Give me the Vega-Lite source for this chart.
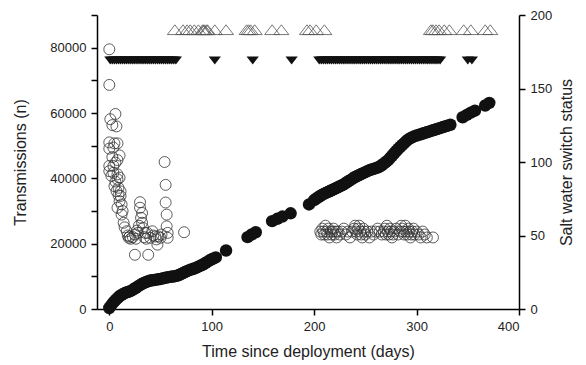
{
  "$schema": "https://vega.github.io/schema/vega-lite/v6.json",
  "width": 422,
  "height": 294,
  "autosize": {"type": "none"},
  "padding": {"left": 97, "top": 15, "right": 67, "bottom": 56},
  "background": "white",
  "config": {
    "view": {"stroke": null},
    "axis": {
      "domainColor": "#000", "tickColor": "#000", "labelColor": "#222", "titleColor": "#222",
      "labelFont": "Liberation Sans", "titleFont": "Liberation Sans",
      "labelFontSize": 13, "titleFontSize": 16, "titleFontWeight": "normal",
      "grid": false, "tickSize": 6, "domainWidth": 1.5, "tickWidth": 1.5, "labelPadding": 5
    }
  },
  "datasets": {
    "cumulative": [
      {"day":0,"n":300},{"day":2,"n":1200},{"day":4,"n":2000},{"day":6,"n":2700},{"day":8,"n":3300},{"day":10,"n":3900},{"day":12,"n":4300},{"day":14,"n":4700},{"day":16,"n":5000},{"day":18,"n":5200},{"day":20,"n":5400},{"day":22,"n":5700},{"day":24,"n":6100},{"day":26,"n":6500},{"day":28,"n":6900},{"day":30,"n":7300},{"day":32,"n":7700},{"day":34,"n":8000},{"day":36,"n":8300},{"day":38,"n":8500},{"day":40,"n":8700},{"day":42,"n":8800},{"day":44,"n":8900},{"day":46,"n":9000},{"day":48,"n":9100},{"day":50,"n":9200},{"day":52,"n":9350},{"day":54,"n":9500},{"day":56,"n":9650},{"day":58,"n":9750},{"day":60,"n":9850},{"day":62,"n":9950},{"day":64,"n":10050},{"day":66,"n":10150},{"day":68,"n":10400},{"day":70,"n":10700},{"day":72,"n":11000},{"day":74,"n":11300},{"day":76,"n":11600},{"day":78,"n":11900},{"day":80,"n":12100},{"day":82,"n":12300},{"day":84,"n":12500},{"day":86,"n":12800},{"day":88,"n":13100},{"day":90,"n":13400},{"day":92,"n":13700},{"day":94,"n":14100},{"day":96,"n":14500},{"day":98,"n":14900},{"day":100,"n":15200},{"day":102,"n":15500},{"day":104,"n":15800},
      {"day":114,"n":17900},{"day":135,"n":22000},{"day":139,"n":22800},{"day":143,"n":23500},{"day":159,"n":26900},{"day":164,"n":27600},{"day":169,"n":28300},{"day":177,"n":29300},{"day":195,"n":32000},
      {"day":200,"n":33300},{"day":202,"n":33800},{"day":204,"n":34200},{"day":206,"n":34600},{"day":208,"n":35000},{"day":210,"n":35300},{"day":212,"n":35600},{"day":214,"n":35900},{"day":216,"n":36200},{"day":218,"n":36500},{"day":220,"n":36800},{"day":222,"n":37100},{"day":224,"n":37400},{"day":226,"n":37700},{"day":228,"n":38000},{"day":230,"n":38400},{"day":232,"n":38800},{"day":234,"n":39200},{"day":236,"n":39600},{"day":238,"n":40000},{"day":240,"n":40400},{"day":242,"n":40700},{"day":244,"n":41000},{"day":246,"n":41300},{"day":248,"n":41600},{"day":250,"n":41900},{"day":252,"n":42200},{"day":254,"n":42500},{"day":256,"n":42700},{"day":258,"n":42900},{"day":260,"n":43100},{"day":262,"n":43300},{"day":264,"n":43600},{"day":266,"n":44000},{"day":268,"n":44500},{"day":270,"n":45000},{"day":272,"n":45500},{"day":274,"n":46200},{"day":276,"n":46900},{"day":278,"n":47600},{"day":280,"n":48300},{"day":282,"n":49000},{"day":284,"n":49600},{"day":286,"n":50200},{"day":288,"n":50800},{"day":290,"n":51400},{"day":292,"n":51900},{"day":294,"n":52300},{"day":296,"n":52600},{"day":298,"n":52900},{"day":300,"n":53100},{"day":302,"n":53300},{"day":304,"n":53500},{"day":306,"n":53700},{"day":308,"n":53900},{"day":310,"n":54100},{"day":312,"n":54300},{"day":314,"n":54500},{"day":316,"n":54700},{"day":318,"n":54900},{"day":320,"n":55100},{"day":322,"n":55300},{"day":324,"n":55500},{"day":326,"n":55700},{"day":328,"n":55900},{"day":330,"n":56100},{"day":333,"n":56400},
      {"day":345,"n":58700},{"day":349,"n":59400},{"day":353,"n":60100},{"day":357,"n":60700},{"day":367,"n":62300},{"day":371,"n":63100}
    ],
    "transmissions": [
      {"day":0,"n":79500},{"day":0,"n":68600},{"day":6,"n":59700},{"day":1,"n":58100},{"day":3,"n":56300},{"day":7,"n":55900},{"day":0,"n":51000},{"day":5,"n":50700},{"day":8,"n":50700},{"day":0,"n":49100},{"day":4,"n":49400},{"day":10,"n":47000},{"day":8,"n":45600},{"day":0,"n":43800},{"day":0,"n":42200},{"day":4,"n":41700},{"day":8,"n":41200},{"day":10,"n":40200},{"day":5,"n":37600},{"day":7,"n":36100},{"day":9,"n":34800},{"day":12,"n":32000},{"day":4,"n":43800},{"day":8,"n":39700},{"day":9,"n":37100},{"day":11,"n":34600},{"day":8,"n":31000},{"day":12,"n":28900},{"day":14,"n":26400},{"day":17,"n":23800},{"day":19,"n":21800},
      {"day":6,"n":44800},{"day":3,"n":46500},{"day":2,"n":40800},{"day":6,"n":39000},{"day":11,"n":36000},{"day":13,"n":30000},{"day":10,"n":33000},
      {"day":30,"n":32700},{"day":30,"n":31000},{"day":32,"n":29400},{"day":31,"n":27900},{"day":32,"n":26400},{"day":33,"n":24800},{"day":35,"n":23300},
      {"day":20,"n":22200},{"day":25,"n":22800},{"day":28,"n":23300},{"day":25,"n":16600},{"day":38,"n":16600},{"day":47,"n":19700},{"day":45,"n":22200},{"day":48,"n":22200},{"day":37,"n":23300},{"day":42,"n":23800},{"day":46,"n":21300},
      {"day":15,"n":25000},{"day":18,"n":22500},{"day":21,"n":21500},{"day":23,"n":22000},{"day":26,"n":21500},{"day":27,"n":24000},{"day":29,"n":25500},{"day":34,"n":22000},{"day":36,"n":21500},{"day":40,"n":21800},{"day":43,"n":22500},{"day":50,"n":21800},{"day":51,"n":22800},
      {"day":54,"n":45000},{"day":55,"n":38000},{"day":55,"n":32600},{"day":56,"n":28900},{"day":56,"n":25300},{"day":57,"n":23300},{"day":57,"n":21800},{"day":73,"n":23500},
      {"day":206,"n":23700},{"day":207,"n":22800},{"day":208,"n":24600},{"day":209,"n":23700},{"day":210,"n":22800},{"day":211,"n":25500},{"day":212,"n":23700},{"day":213,"n":22800},{"day":214,"n":24600},{"day":215,"n":21900},{"day":216,"n":23700},{"day":217,"n":22800},{"day":218,"n":23700},{"day":219,"n":24600},{"day":220,"n":22800},{"day":221,"n":23700},{"day":222,"n":21900},{"day":223,"n":23700},{"day":225,"n":22800},{"day":227,"n":23700},{"day":229,"n":24600},{"day":231,"n":22800},{"day":233,"n":23700},{"day":235,"n":21900},{"day":237,"n":23700},{"day":239,"n":24600},{"day":240,"n":25500},{"day":241,"n":23700},{"day":242,"n":22800},{"day":243,"n":24600},{"day":244,"n":25500},{"day":245,"n":23700},{"day":246,"n":22800},{"day":247,"n":21900},{"day":248,"n":24600},{"day":249,"n":23700},{"day":250,"n":22800},{"day":252,"n":23700},{"day":254,"n":21900},{"day":256,"n":23700},{"day":258,"n":22800},{"day":260,"n":23700},{"day":262,"n":24600},{"day":264,"n":23700},{"day":266,"n":22800},{"day":268,"n":23700},{"day":269,"n":24600},{"day":270,"n":22800},{"day":271,"n":25500},{"day":272,"n":23700},{"day":273,"n":22800},{"day":274,"n":24600},{"day":275,"n":23700},{"day":276,"n":21900},{"day":277,"n":22800},{"day":278,"n":23700},{"day":280,"n":24600},{"day":282,"n":22800},{"day":284,"n":23700},{"day":285,"n":25500},{"day":286,"n":24600},{"day":287,"n":23700},{"day":288,"n":22800},{"day":289,"n":25500},{"day":290,"n":23700},{"day":291,"n":22800},{"day":292,"n":24600},{"day":293,"n":23700},{"day":294,"n":21900},{"day":295,"n":22800},{"day":296,"n":23700},{"day":297,"n":24600},{"day":298,"n":22800},{"day":300,"n":23700},{"day":302,"n":22800},{"day":304,"n":21900},{"day":306,"n":23700},{"day":308,"n":22800},{"day":310,"n":21900},{"day":316,"n":21900}
    ],
    "switchOpen": [
      {"day":64,"status":190},{"day":72,"status":190},{"day":76,"status":190},{"day":79,"status":190},{"day":83,"status":190},{"day":87,"status":190},{"day":91,"status":190},{"day":92,"status":190},{"day":93,"status":190},{"day":95,"status":190},{"day":96,"status":190},{"day":103,"status":190},{"day":114,"status":190},
      {"day":134,"status":190},{"day":136,"status":190},{"day":138,"status":190},{"day":142,"status":190},
      {"day":159,"status":190},{"day":168,"status":190},
      {"day":193,"status":190},{"day":196,"status":190},{"day":202,"status":190},{"day":210,"status":190},
      {"day":314,"status":190},{"day":316,"status":190},{"day":319,"status":190},{"day":322,"status":190},{"day":327,"status":190},{"day":332,"status":190},
      {"day":346,"status":190},{"day":353,"status":190},
      {"day":367,"status":190},{"day":372,"status":190}
    ],
    "switchClosed": [
      {"day":1,"status":169},{"day":3,"status":169},{"day":5,"status":169},{"day":7,"status":169},{"day":9,"status":169},{"day":11,"status":169},{"day":13,"status":169},{"day":15,"status":169},{"day":17,"status":169},{"day":19,"status":169},{"day":21,"status":169},{"day":23,"status":169},{"day":25,"status":169},{"day":27,"status":169},{"day":29,"status":169},{"day":31,"status":169},{"day":33,"status":169},{"day":35,"status":169},{"day":37,"status":169},{"day":39,"status":169},{"day":41,"status":169},{"day":43,"status":169},{"day":45,"status":169},{"day":47,"status":169},{"day":49,"status":169},{"day":51,"status":169},{"day":53,"status":169},{"day":55,"status":169},{"day":57,"status":169},{"day":59,"status":169},{"day":61,"status":169},{"day":63,"status":169},{"day":65,"status":169},
      {"day":103,"status":169},{"day":140,"status":169},{"day":178,"status":169},
      {"day":205,"status":169},{"day":207,"status":169},{"day":209,"status":169},{"day":211,"status":169},{"day":213,"status":169},{"day":215,"status":169},{"day":217,"status":169},{"day":219,"status":169},{"day":221,"status":169},{"day":223,"status":169},{"day":225,"status":169},{"day":227,"status":169},{"day":229,"status":169},{"day":231,"status":169},{"day":233,"status":169},{"day":235,"status":169},{"day":237,"status":169},{"day":239,"status":169},{"day":241,"status":169},{"day":243,"status":169},{"day":245,"status":169},{"day":247,"status":169},{"day":249,"status":169},{"day":251,"status":169},{"day":253,"status":169},{"day":255,"status":169},{"day":257,"status":169},{"day":259,"status":169},{"day":261,"status":169},{"day":263,"status":169},{"day":265,"status":169},{"day":267,"status":169},{"day":269,"status":169},{"day":271,"status":169},{"day":273,"status":169},{"day":275,"status":169},{"day":277,"status":169},{"day":279,"status":169},{"day":281,"status":169},{"day":283,"status":169},{"day":285,"status":169},{"day":287,"status":169},{"day":289,"status":169},{"day":291,"status":169},{"day":293,"status":169},{"day":295,"status":169},{"day":297,"status":169},{"day":299,"status":169},{"day":301,"status":169},{"day":303,"status":169},{"day":305,"status":169},{"day":307,"status":169},{"day":309,"status":169},{"day":311,"status":169},{"day":313,"status":169},{"day":315,"status":169},{"day":317,"status":169},{"day":319,"status":169},{"day":321,"status":169},{"day":323,"status":169},
      {"day":350,"status":169},{"day":354,"status":169}
    ]
  },
  "layer": [
    {
      "encoding": {
        "x": {"field": "day", "type": "quantitative",
          "scale": {"domain": [-12, 400], "nice": false, "zero": false},
          "axis": {"values": [0, 100, 200, 300, 400], "title": "Time since deployment (days)", "titlePadding": 10}},
        "y": {"field": "n", "type": "quantitative",
          "scale": {"domain": [0, 90000], "nice": false},
          "axis": {"orient": "left", "values": [0,10000,20000,30000,40000,50000,60000,70000,80000,90000],
            "labelExpr": "datum.value % 20000 === 0 ? datum.value : ''",
            "title": "Transmissions (n)", "titlePadding": 21}}
      },
      "layer": [
        {"data": {"name": "transmissions"},
         "mark": {"type": "point", "shape": "circle", "filled": false, "stroke": "#333", "strokeWidth": 0.8, "size": 120, "opacity": 1}},
        {"data": {"name": "cumulative"},
         "mark": {"type": "circle", "color": "#111", "size": 155, "opacity": 1}}
      ]
    },
    {
      "encoding": {
        "x": {"field": "day", "type": "quantitative", "scale": {"domain": [-12, 400], "nice": false, "zero": false}},
        "y": {"field": "status", "type": "quantitative",
          "scale": {"domain": [0, 200], "nice": false},
          "axis": {"orient": "right", "values": [0, 50, 100, 150, 200], "title": "Salt water switch status", "titleAngle": 270, "titleBaseline": "top", "titlePadding": 7}}
      },
      "layer": [
        {"data": {"name": "switchOpen"},
         "mark": {"type": "point", "shape": "M-1,0.65L0,-0.65L1,0.65Z", "filled": false, "stroke": "#555", "strokeWidth": 0.8, "size": 225, "opacity": 1}},
        {"data": {"name": "switchClosed"},
         "mark": {"type": "point", "shape": "M-1,-0.65L1,-0.65L0,0.65Z", "filled": true, "fill": "#111", "strokeWidth": 0, "size": 150, "opacity": 1}}
      ]
    }
  ],
  "resolve": {"scale": {"y": "independent"}}
}
